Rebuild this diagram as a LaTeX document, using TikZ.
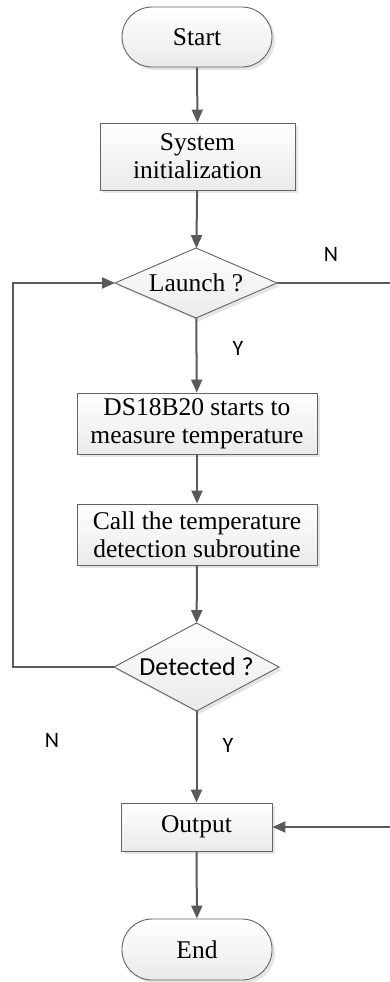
\documentclass[tikz,border=0pt]{standalone}
\usepackage{fontspec}
\setmainfont{Liberation Serif}
\newfontfamily\labelfont{Carlito}
\usetikzlibrary{arrows.meta,shapes.geometric,shadows}
\definecolor{edgegray}{RGB}{100,100,100}
\definecolor{linegray}{RGB}{90,90,90}
\definecolor{fillbot}{RGB}{234,234,234}
\definecolor{shadowgray}{RGB}{210,210,210}
\newcommand{\zerobox}[1]{\smash{\raisebox{-0.33em}{\makebox[0pt]{#1}}}}
\tikzset{
  base/.style={draw=edgegray, line width=0.9pt, top color=white, bottom color=fillbot,
    inner sep=0pt, align=center, font=\fontsize{25.5}{28}\selectfont,
    drop shadow={fill=shadowgray, opacity=0.6, shadow xshift=3pt, shadow yshift=-3pt}},
  term/.style={base, rounded corners=30pt},
  proc/.style={base},
  decis/.style={base, diamond, outer sep=0pt},
  flow/.style={draw=linegray, line width=2pt, -{Triangle[length=13pt,width=11pt]}},
  lbl/.style={font=\labelfont\fontsize{22}{22}\selectfont, text=black}
}
\begin{document}
\begin{tikzpicture}[x=1pt,y=-1pt]
\useasboundingbox (0,0) rectangle (389,982);
\node[term, minimum width=150pt, minimum height=60pt] (start) at (197,37) {Start};
\node[proc, minimum width=195pt, minimum height=67pt] (sys) at (197.5,156.5) {System\\initialization};
\node[decis, minimum width=162pt, minimum height=70pt] (launch) at (196,283) {\zerobox{Launch ?}};
\node[proc, minimum width=240pt, minimum height=61pt] (ds) at (197,423.5) {DS18B20 starts to\\measure temperature};
\node[proc, minimum width=240pt, minimum height=61pt] (call) at (197,534.5) {Call the temperature\\detection subroutine};
\node[decis, minimum width=165pt, minimum height=88pt, font=\labelfont\fontsize{26}{26}\selectfont] (det) at (196.5,667) {\zerobox{Detected ?}};
\node[proc, minimum width=151pt, minimum height=48pt] (out) at (196.5,827) {Output};
\node[term, minimum width=150pt, minimum height=61pt] (end) at (197,949.5) {End};

\coordinate (lx) at (13,0);
\coordinate (rx) at (400,0);

\draw[flow] (start) -- (sys);
\draw[flow] (sys) -- (launch);
\draw[flow] (launch) -- (ds);
\draw[flow] (ds) -- (call);
\draw[flow] (call) -- (det);
\draw[flow] (det) -- (out);
\draw[flow] (out) -- (end);
\draw[flow] (det.west) -- (det.west -| lx) -- (launch.west -| lx) -- (launch.west);
\draw[flow] (launch.east) -- (launch.east -| rx) -- (out.east -| rx) -- (out.east);

\node[lbl] (n1) at (331,254) {N};
\node[lbl] (y1) at (238,348) {Y};
\node[lbl] (n2) at (52,740) {N};
\node[lbl] (y2) at (228,745) {Y};
\end{tikzpicture}
\end{document}
